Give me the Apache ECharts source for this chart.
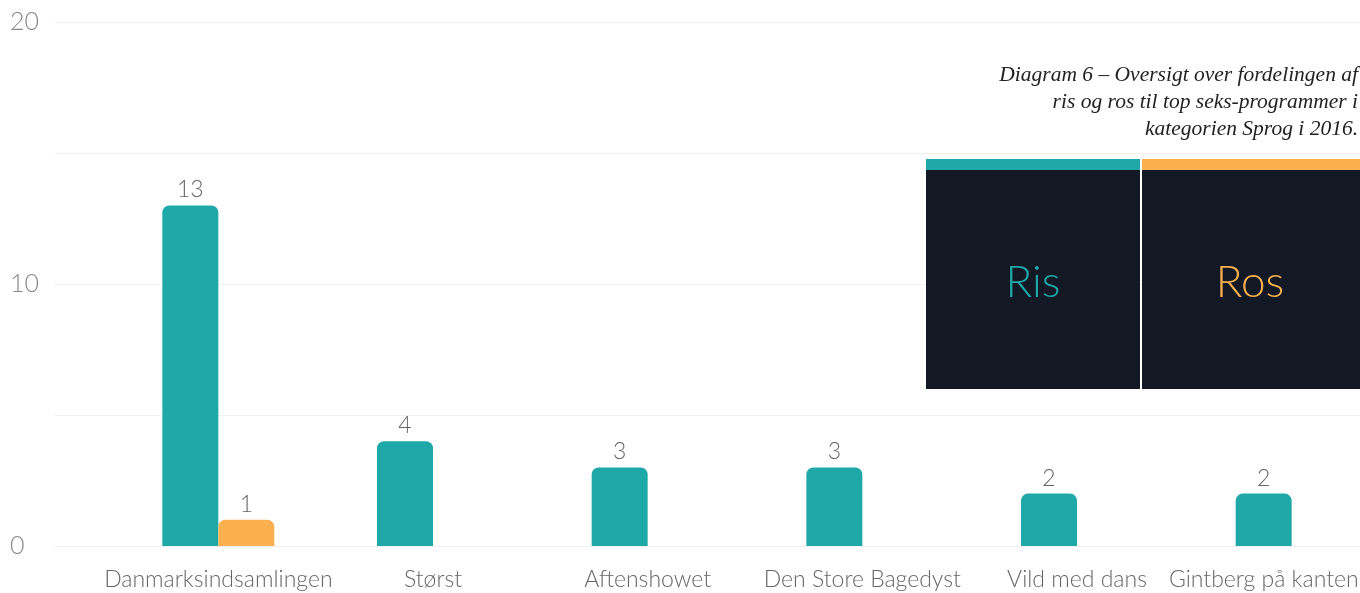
<!DOCTYPE html>
<html>
<head>
<meta charset="utf-8">
<script src="https://cdn.jsdelivr.net/npm/echarts@6/dist/echarts.min.js"></script>
<style>
html,body{margin:0;padding:0;background:#fff;}
#main{width:1360px;height:593px;}
</style>
</head>
<body>
<div id="main"></div>
<script>
var programs = ['Danmarksindsamlingen', 'Størst', 'Aftenshowet', 'Den Store Bagedyst', 'Vild med dans', 'Gintberg på kanten'];
var risData = [13, 4, 3, 3, 2, 2];
var rosData = [1, null, null, null, null, null];
var yTicks = [0, 10, 20];
var titleText = 'Diagram 6 – Oversigt over fordelingen af\nris og ros til top seks-programmer i\nkategorien Sprog i 2016.';

var teal = '#1fa8a8';
var orange = '#fbb04f';
var font = 'Lato';

var myChart = echarts.init(document.getElementById('main'));

// the last category label is pushed left so it stays inside the picture
var categoryData = programs.map(function (name, i) {
    if (i === programs.length - 1) {
        return {value: name, textStyle: {align: 'right', padding: [0, -67, 0, 0]}};
    }
    return name;
});

var option = {
    backgroundColor: '#fff',
    animation: false,
    grid: [
        {left: 55, right: 0, top: 22, bottom: 47, outerBoundsMode: 'none'},      // gridlines
        {left: 111, width: 1288, top: 22, bottom: 47, outerBoundsMode: 'none'}    // bars, cropped on the right
    ],
    xAxis: [
        {gridIndex: 0, type: 'value', show: false, min: 0, max: 1},
        {
            gridIndex: 1,
            type: 'category',
            data: categoryData,
            axisLine: {show: false},
            axisTick: {show: false},
            axisLabel: {
                color: '#666',
                fontSize: 23,
                fontFamily: font,
                fontWeight: 300,
                margin: 22,
                interval: 0
            }
        }
    ],
    yAxis: [
        {
            gridIndex: 0,
            type: 'value',
            min: 0,
            max: 20,
            interval: 5,
            axisLine: {show: false},
            axisTick: {show: false},
            splitLine: {lineStyle: {color: '#efefef', width: 1}},
            axisLabel: {
                align: 'left',
                margin: 45,
                color: '#888',
                fontSize: 25,
                fontFamily: font,
                fontWeight: 300,
                formatter: function (v) { return yTicks.indexOf(v) >= 0 ? v : ''; }
            }
        },
        {gridIndex: 1, type: 'value', min: 0, max: 20, show: false, splitLine: {show: false}}
    ],
    series: [
        {
            name: 'Ris',
            type: 'bar',
            xAxisIndex: 1,
            yAxisIndex: 1,
            barWidth: 56,
            barGap: '0%',
            data: risData,
            itemStyle: {color: teal, borderRadius: [7, 7, 0, 0]},
            label: {
                show: true,
                position: 'top',
                distance: 4,
                color: '#666',
                fontSize: 23,
                fontFamily: font,
                fontWeight: 300
            }
        },
        {
            name: 'Ros',
            type: 'bar',
            xAxisIndex: 1,
            yAxisIndex: 1,
            barWidth: 56,
            barGap: '0%',
            data: rosData,
            itemStyle: {color: orange, borderRadius: [7, 7, 0, 0]},
            label: {
                show: true,
                position: 'top',
                distance: 4,
                color: '#666',
                fontSize: 23,
                fontFamily: font,
                fontWeight: 300
            }
        }
    ],
    // caption and legend boxes
    graphic: [
        {type: 'text', x: 1358, y: 62, style: {text: titleText, fill: '#222', fontSize: 21.5, lineHeight: 27, fontFamily: 'Liberation Serif', fontStyle: 'italic', align: 'right', verticalAlign: 'top'}, z: 12},
        {type: 'rect', left: 926, top: 159, shape: {width: 214, height: 230}, style: {fill: '#131825'}, z: 10},
        {type: 'rect', left: 926, top: 159, shape: {width: 214, height: 11}, style: {fill: teal}, z: 11},
        {type: 'rect', left: 1142, top: 159, shape: {width: 220, height: 230}, style: {fill: '#131825'}, z: 10},
        {type: 'rect', left: 1142, top: 159, shape: {width: 220, height: 11}, style: {fill: orange}, z: 11},
        {type: 'text', x: 1033, y: 283, style: {text: 'Ris', fill: teal, fontSize: 44, fontFamily: font, fontWeight: 300, align: 'center', verticalAlign: 'middle'}, z: 12},
        {type: 'text', x: 1250, y: 283, style: {text: 'Ros', fill: orange, fontSize: 44, fontFamily: font, fontWeight: 300, align: 'center', verticalAlign: 'middle'}, z: 12}
    ]
};
myChart.setOption(option);
</script>
</body>
</html>
